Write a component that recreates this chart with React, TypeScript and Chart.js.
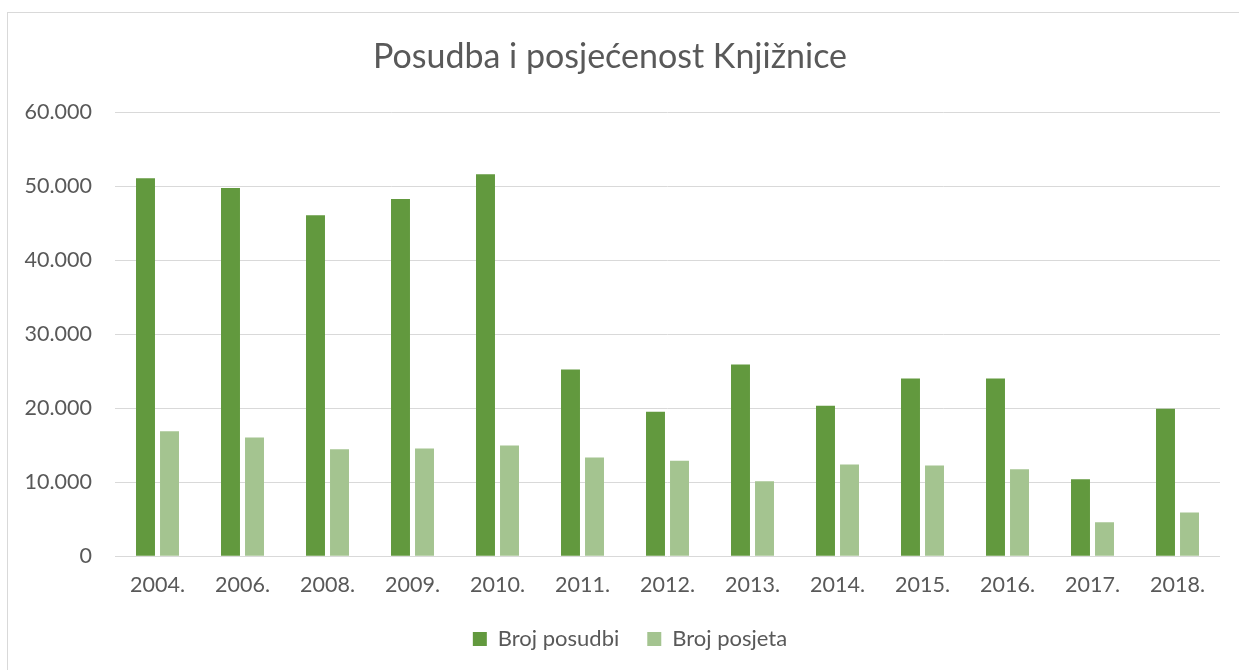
import React, { useEffect, useRef } from "react";
import { Chart, registerables } from "chart.js";

Chart.register(...registerables);

const categories = ["2004.", "2006.", "2008.", "2009.", "2010.", "2011.", "2012.", "2013.", "2014.", "2015.", "2016.", "2017.", "2018."];
const posudbi = [51050, 49730, 46040, 48240, 51580, 25230, 19500, 25900, 20310, 24010, 24010, 10400, 19910];
const posjeta = [16890, 16040, 14460, 14550, 14960, 13330, 12880, 10140, 12390, 12250, 11760, 4590, 5900];
const yTicks = [0, 10000, 20000, 30000, 40000, 50000, 60000];

const TEXT = "#595959";
const FONT = "Lato, 'Noto Sans', sans-serif";

function fmt(v: number): string {
  return String(Math.round(v)).replace(/\B(?=(\d{3})+(?!\d))/g, ".");
}

const legendShift = {
  id: "legendShift",
  afterLayout(chart: any) {
    if (chart.legend) {
      chart.legend.left += 20;
      chart.legend.right += 20;
    }
  },
};

export default function App() {
  const ref = useRef<HTMLCanvasElement | null>(null);
  useEffect(() => {
    if (!ref.current) return;
    const chart = new Chart(ref.current, {
      type: "bar",
      data: {
        labels: categories,
        datasets: [
          { label: "Broj posudbi", data: posudbi, backgroundColor: "#62993E", categoryPercentage: 0.565, barPercentage: 0.79 },
          { label: "Broj posjeta", data: posjeta, backgroundColor: "#A4C490", categoryPercentage: 0.565, barPercentage: 0.79 },
        ],
      },
      plugins: [legendShift],
      options: {
        animation: false,
        responsive: false,
        maintainAspectRatio: false,
        layout: { padding: { left: 0, right: 19, top: 0, bottom: 10 } },
        plugins: {
          title: {
            display: true,
            text: "Posudba i posjećenost Knjižnice",
            color: TEXT,
            font: { family: FONT, size: 34, weight: "normal" },
            padding: { top: 36.6, bottom: 34.6 },
          },
          legend: {
            position: "bottom",
            labels: {
              color: TEXT,
              font: { family: FONT, size: 22 },
              boxWidth: 14,
              boxHeight: 14,
              padding: 28,
            },
          },
          tooltip: { enabled: false },
        },
        scales: {
          x: {
            grid: { display: false, drawTicks: false },
            border: { display: false },
            afterFit: (s: any) => { s.height = s.height - 14; },
            ticks: { color: TEXT, font: { family: FONT, size: 21.5 }, padding: 16, maxRotation: 0 },
          },
          y: {
            min: 0,
            max: 60000,
            afterBuildTicks: (s: any) => { s.ticks = yTicks.map((v) => ({ value: v })); },
            afterFit: (s: any) => { s.width = 115; },
            grid: { color: "#D9D9D9", lineWidth: 1, drawTicks: false },
            border: { display: false },
            ticks: { color: TEXT, font: { family: FONT, size: 21.5 }, padding: 23, callback: (v: any) => fmt(Number(v)) },
          },
        },
      },
    });
    return () => chart.destroy();
  }, []);
  return (
    <div style={{ position: "fixed", left: 0, top: 0, width: 1239, height: 670, overflow: "hidden", background: "#fff" }}>
      <div style={{ position: "absolute", left: 7, top: 12, width: 1240, height: 680, border: "1px solid #D9D9D9", boxSizing: "border-box" }} />
      <canvas ref={ref} width={1239} height={670} style={{ position: "absolute", left: 0, top: 0 }} />
    </div>
  );
}
